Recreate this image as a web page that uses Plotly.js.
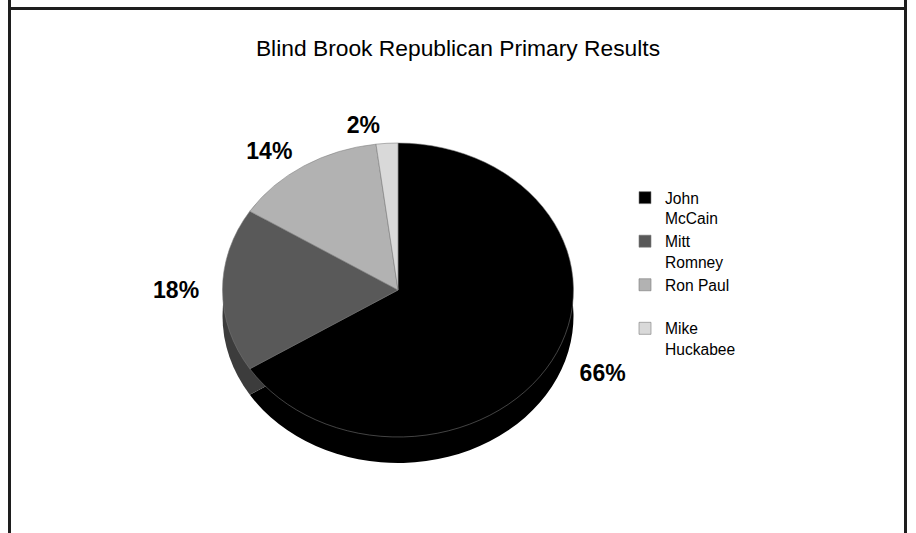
<!DOCTYPE html>
<html>
<head>
<meta charset="utf-8">
<script src="https://cdn.plot.ly/plotly-3.0.1.min.js"></script>
<style>
  html, body { margin: 0; padding: 0; background: #ffffff; }
  #chart { width: 916px; height: 533px; }
</style>
</head>
<body>
<div id="chart"></div>
<script>
// ---- data ----
const candidates = ["John McCain", "Mitt Romney", "Ron Paul", "Mike Huckabee"];
const legendLabels = ["John<br>McCain", "Mitt<br>Romney", "Ron Paul<br>&nbsp;", "Mike<br>Huckabee"];
const shares = [66, 18, 14, 2];
const topColors = ["#000000", "#595959", "#b2b2b2", "#d9d9d9"];
const sideColors = ["#000000", "#3c3c3c", "#808080", "#a6a6a6"];
const chartTitle = "Blind Brook Republican Primary Results";

// ---- layout helpers (pixel geometry) ----
const W = 916, H = 533;
const cx = 398, cy = 290;          // centre of the top face
const R = 175.5;                   // horizontal radius of the top face
const tilt = 147 / 175.5;          // vertical squash giving the 3-D ellipse
const depth = 26 / tilt;           // thickness of the disc (before squash)
const RL = 185;                    // radius on which the % labels sit
const labelPull = [0.08, 0.04, 0, 0];
const maxPull = Math.max.apply(null, labelPull);
function domainFor(centerX, centerY, r) {
  return {
    x: [(centerX - r) / W, (centerX + r) / W],
    y: [(H - (centerY + r)) / H, (H - (centerY - r)) / H]
  };
}
const FONT = "Liberation Sans, Arial, Helvetica, sans-serif";

const sidePie = {
  type: "pie",
  labels: legendLabels,
  values: shares,
  sort: false,
  direction: "clockwise",
  rotation: 0,
  domain: domainFor(cx, cy + depth, R),
  marker: { colors: sideColors, line: { width: 0 } },
  textinfo: "none",
  hoverinfo: "skip",
  showlegend: false
};

const topPie = {
  type: "pie",
  labels: legendLabels,
  values: shares,
  sort: false,
  direction: "clockwise",
  rotation: 0,
  domain: domainFor(cx, cy, R),
  marker: { colors: topColors, line: { color: "#7a7a7a", width: 0.6 } },
  textinfo: "none",
  hovertext: candidates,
  hoverinfo: "text+percent",
  showlegend: true
};

const labelPie = {
  type: "pie",
  labels: legendLabels,
  values: shares,
  sort: false,
  direction: "clockwise",
  rotation: 0,
  pull: labelPull,
  domain: domainFor(cx, cy, RL * (1 + maxPull)),
  marker: { colors: ["rgba(0,0,0,0)", "rgba(0,0,0,0)", "rgba(0,0,0,0)", "rgba(0,0,0,0)"], line: { width: 0 } },
  texttemplate: "%{percent:.0%}",
  textposition: "outside",
  outsidetextfont: { family: FONT, size: 23, weight: "bold", color: "#000000" },
  hoverinfo: "skip",
  showlegend: false
};

const layout = {
  width: W, height: H,
  margin: { l: 0, r: 0, t: 0, b: 0 },
  paper_bgcolor: "#ffffff",
  plot_bgcolor: "#ffffff",
  font: { family: FONT, color: "#000000" },
  title: {
    text: chartTitle,
    font: { family: FONT, size: 22.8, color: "#000000" },
    x: 0.5, xanchor: "center",
    y: 1 - 48 / H, yanchor: "middle",
    xref: "paper", yref: "paper"
  },
  showlegend: true,
  legend: {
    x: 625 / W, xanchor: "left",
    y: 1 - 181 / H, yanchor: "top",
    font: { family: FONT, size: 15.6, color: "#000000" },
    valign: "top",
    bgcolor: "rgba(0,0,0,0)",
    borderwidth: 0,
    traceorder: "normal"
  },
  shapes: [
    { type: "line", xref: "paper", yref: "paper", x0: 9.5 / W, x1: 9.5 / W, y0: 0, y1: 1, line: { color: "#1e1e1e", width: 3 } },
    { type: "line", xref: "paper", yref: "paper", x0: 905.5 / W, x1: 905.5 / W, y0: 0, y1: 1, line: { color: "#1e1e1e", width: 3 } },
    { type: "line", xref: "paper", yref: "paper", x0: 9.5 / W, x1: 905.5 / W, y0: 1 - 8.5 / H, y1: 1 - 8.5 / H, line: { color: "#1e1e1e", width: 3 } }
  ]
};

Plotly.newPlot("chart", [sidePie, topPie, labelPie], layout, { displayModeBar: false, staticPlot: true })
  .then(function (gd) {
    // tilt the pie layer into an ellipse (3-D look), keep the text upright and unsquashed
    const layer = gd.querySelector(".pielayer");
    if (!layer) return;
    layer.setAttribute("transform", "matrix(1 0 0 " + tilt + " 0 " + (cy * (1 - tilt)) + ")");
    layer.querySelectorAll("g.slicetext").forEach(function (g) {
      const bb = g.getBBox();
      const mx = bb.x + bb.width / 2, my = bb.y + bb.height / 2;
      const t = g.getAttribute("transform") || "";
      g.setAttribute("transform", t + " translate(" + mx + "," + my + ") scale(1," + (1 / tilt) + ") translate(" + (-mx) + "," + (-my) + ")");
    });
  });
</script>
</body>
</html>
